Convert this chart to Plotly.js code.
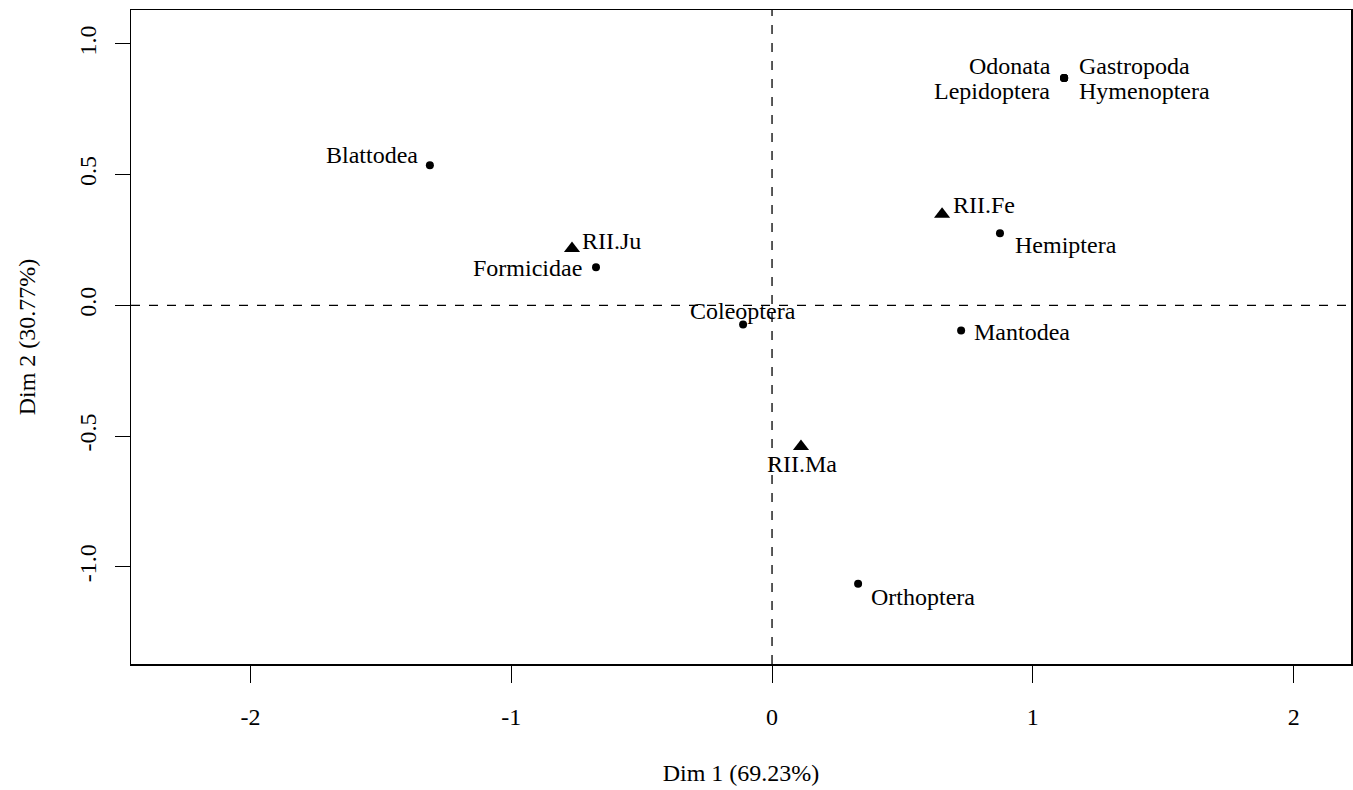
<!DOCTYPE html>
<html><head><meta charset="utf-8">
<script src="https://cdn.plot.ly/plotly-3.0.1.min.js"></script>
<style>html,body{margin:0;padding:0;background:#fff}#chart{width:1353px;height:790px}</style>
</head><body><div id="chart"></div>
<script>
// Column (taxa) points
const taxaNames = ["Blattodea","Formicidae","Coleoptera","Hemiptera","Mantodea","Orthoptera","Odonata","Gastropoda","Lepidoptera","Hymenoptera"];
const taxaDim1 = [-1.312,-0.675,-0.111,0.874,0.725,0.330,1.120,1.120,1.120,1.120];
const taxaDim2 = [0.536,0.146,-0.073,0.276,-0.096,-1.065,0.870,0.870,0.870,0.870];
// Row (site) points
const siteNames = ["RII.Ju","RII.Fe","RII.Ma"];
const siteDim1 = [-0.767,0.652,0.111];
const siteDim2 = [0.218,0.349,-0.540];

// label placement (style only)
const taxaLabelStyle = {
  "Blattodea":{xa:"right",dx:-10,dy:10},
  "Formicidae":{xa:"right",dx:-12,dy:-1},
  "Coleoptera":{xa:"center",dx:0,dy:13},
  "Hemiptera":{xa:"left",dx:13,dy:-12},
  "Mantodea":{xa:"left",dx:11,dy:-2},
  "Orthoptera":{xa:"left",dx:11,dy:-13},
  "Odonata":{xa:"right",dx:-11,dy:12},
  "Gastropoda":{xa:"left",dx:13,dy:12},
  "Lepidoptera":{xa:"right",dx:-12,dy:-13},
  "Hymenoptera":{xa:"left",dx:13,dy:-13}
};
const siteLabelStyle = {
  "RII.Ju":{xa:"left",dx:8,dy:7},
  "RII.Fe":{xa:"left",dx:9,dy:9},
  "RII.Ma":{xa:"center",dx:1,dy:-17}
};

const font = {family:"Liberation Serif, Times New Roman, serif", size:24, color:"#000"};

const traces = [
  {type:"scatter",mode:"markers",x:taxaDim1,y:taxaDim2,text:taxaNames,
   marker:{symbol:"circle",size:8,color:"#000"},hoverinfo:"text",showlegend:false},
  {type:"scatter",mode:"markers",x:siteDim1,y:siteDim2,text:siteNames,
   marker:{symbol:"triangle-up",size:14,color:"#000"},hoverinfo:"text",showlegend:false}
];

const annotations = [];
taxaNames.forEach((n,i)=>{const s=taxaLabelStyle[n];annotations.push({x:taxaDim1[i],y:taxaDim2[i],xref:"x",yref:"y",text:n,showarrow:false,xanchor:s.xa,yanchor:"middle",xshift:s.dx,yshift:s.dy,font:font});});
siteNames.forEach((n,i)=>{const s=siteLabelStyle[n];annotations.push({x:siteDim1[i],y:siteDim2[i],xref:"x",yref:"y",text:n,showarrow:false,xanchor:s.xa,yanchor:"middle",xshift:s.dx,yshift:s.dy,font:font});});

const layout = {
  width:1353,height:790,
  paper_bgcolor:"#fff",plot_bgcolor:"#fff",
  margin:{l:131,r:2,t:10,b:126},
  font:font,
  xaxis:{range:[-2.458,2.22],tickvals:[-2,-1,0,1,2],ticktext:["-2","-1","0","1","2"],
    showgrid:false,zeroline:false,showline:true,mirror:true,linecolor:"#000",linewidth:1.5,
    ticks:"outside",ticklen:17,tickwidth:1,tickcolor:"#000",ticklabelstandoff:14,
    title:{text:"Dim 1 (69.23%)",font:font,standoff:35}},
  yaxis:{range:[-1.372,1.13],tickvals:[-1,-0.5,0,0.5,1],ticktext:["-1.0","-0.5","0.0","0.5","1.0"],
    tickangle:-90,
    showgrid:false,zeroline:false,showline:true,mirror:true,linecolor:"#000",linewidth:1.5,
    ticks:"outside",ticklen:15,tickwidth:1,tickcolor:"#000",ticklabelstandoff:9,
    title:{text:"Dim 2 (30.77%)",font:font,standoff:32}},
  shapes:[
    {type:"line",xref:"x",yref:"paper",x0:0,x1:0,y0:0,y1:1,line:{color:"#000",width:1.3,dash:"dash"}},
    {type:"line",xref:"paper",yref:"y",x0:0,x1:1,y0:0,y1:0,line:{color:"#000",width:1.3,dash:"dash"}}
  ],
  annotations:annotations
};
Plotly.newPlot("chart",traces,layout,{displayModeBar:false,staticPlot:true});
</script></body></html>
